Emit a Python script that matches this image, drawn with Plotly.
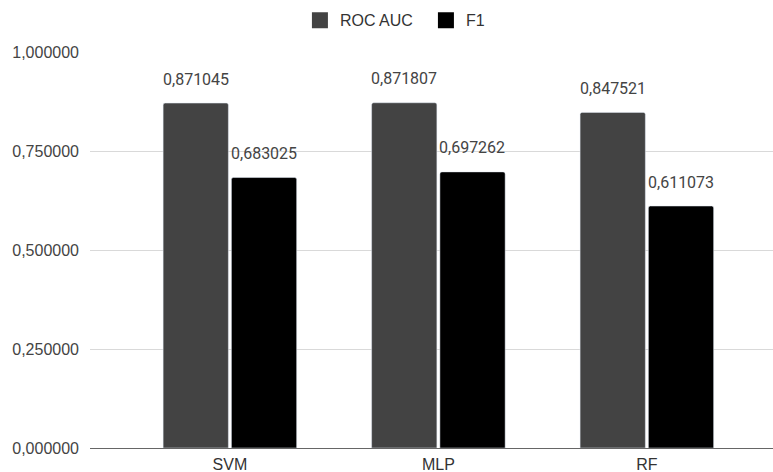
import plotly.graph_objects as go

categories = ["SVM", "MLP", "RF"]
roc_auc = [0.871045, 0.871807, 0.847521]
f1 = [0.683025, 0.697262, 0.611073]
y_ticks = [0.0, 0.25, 0.5, 0.75, 1.0]
y_tick_labels = ["0,000000", "0,250000", "0,500000", "0,750000", "1,000000"]
series_names = ["ROC AUC", "F1"]
series_colors = ["#434343", "#000000"]

def fmt(v):
    return f"{v:.6f}".replace(".", ",")

fig = go.Figure()
for name, vals, col in zip(series_names, [roc_auc, f1], series_colors):
    fig.add_trace(go.Bar(name=name, x=categories, y=vals, showlegend=False,
                         marker=dict(color=col, cornerradius=2)))
# legend entries with larger square swatches
for name, col in zip(series_names, series_colors):
    fig.add_trace(go.Scatter(name=name, x=[None], y=[None], mode="markers",
                             marker=dict(symbol="square", size=16, color=col)))

annotations = []
for i, c in enumerate(categories):
    for vals, shift in ((roc_auc, -34), (f1, 34)):
        annotations.append(dict(x=i, y=vals[i], xref="x", yref="y", text=fmt(vals[i]),
                                showarrow=False, xshift=shift, yshift=24,
                                font=dict(family="Roboto", size=16, color="#444444")))

fig.update_layout(
    width=773, height=472,
    margin=dict(l=90, r=0, t=52, b=24, autoexpand=False),
    paper_bgcolor="white", plot_bgcolor="white",
    barmode="group", bargap=0.345, bargroupgap=0.044,
    legend=dict(orientation="h", x=0.388, xanchor="left", xref="container",
                y=0.993, yanchor="top", yref="container",
                font=dict(family="Arial", size=16, color="#333333"),
                entrywidth=81, itemsizing="trace", tracegroupgap=0),
    annotations=annotations,
    showlegend=True,
)
fig.update_xaxes(range=[-0.671, 2.605], showgrid=False, showline=False, ticks="",
                 ticklabelstandoff=5,
                 tickfont=dict(family="Arial", size=16, color="#333333"))
fig.update_yaxes(range=[0, 1], tickvals=y_ticks, ticktext=y_tick_labels,
                 showgrid=True, gridcolor="#d9d9d9", gridwidth=1,
                 zeroline=True, zerolinecolor="#666666", zerolinewidth=1,
                 ticks="", ticklabelstandoff=10,
                 tickfont=dict(family="Arial", size=16, color="#444444"))
fig.write_html("out.html", config={"displayModeBar": False},
               post_script="document.body.style.margin='0';")
